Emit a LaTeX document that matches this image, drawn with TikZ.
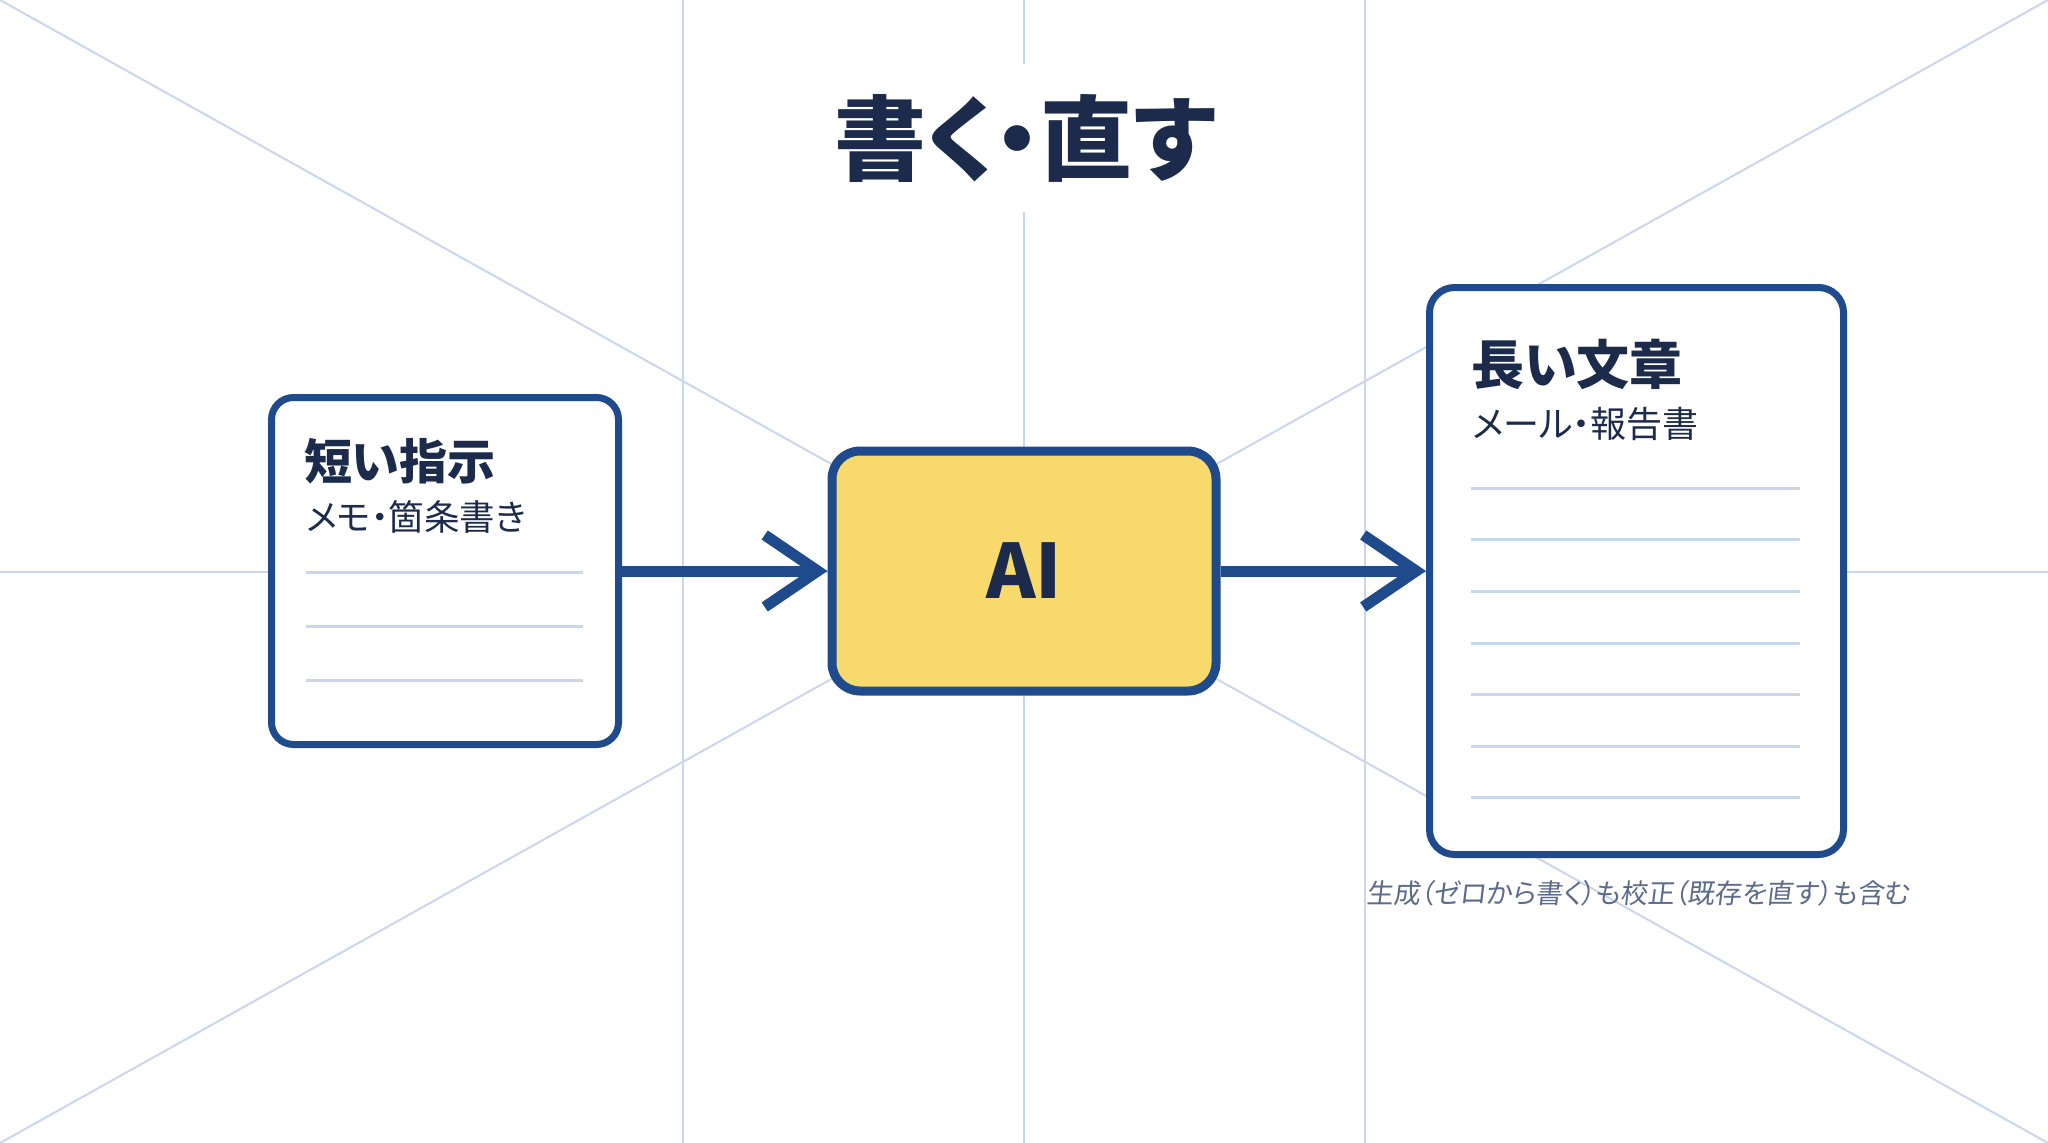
\documentclass[tikz,border=0pt]{standalone}
\usepackage{fontspec}
\setmainfont[RawFeature=+palt]{Noto Sans CJK JP}
\newfontfamily\titlefont[RawFeature=+palt]{Noto Sans CJK JP}
\newfontfamily\capfont[FakeSlant=0.12,RawFeature=+palt]{Noto Sans CJK JP}
\usetikzlibrary{arrows.meta}
\definecolor{guide}{HTML}{C9D7EE}
\definecolor{navy}{HTML}{1C2B4B}
\definecolor{border}{HTML}{1F4A8C}
\definecolor{aifill}{HTML}{F8D96C}
\definecolor{capcol}{HTML}{5B6B8C}
\tikzset{
  guideline/.style={draw=guide, line width=2pt},
  doclines/.style={draw=guide, line width=3pt},
  card/.style={draw=border, line width=7pt, fill=white, inner sep=0pt},
  aibox/.style={draw=border, line width=9pt, fill=aifill, inner sep=0pt, rounded corners=28pt},
  flow/.style={draw=border, line width=11pt, -{Straight Barb[length=53pt,width=72pt,sharp]}},
  headtxt/.style={text=navy, font=\bfseries\fontsize{48pt}{48pt}\selectfont, anchor=base west, inner sep=0pt},
  subtxt/.style={text=navy, font=\fontsize{35.5pt}{35.5pt}\selectfont, anchor=base west, inner sep=0pt},
}
\begin{document}
\begin{tikzpicture}[x=1pt, y=-1pt]
\useasboundingbox (0,0) rectangle (2048,1143);
\fill[white] (0,0) rectangle (2048,1143);
% guide lines
\coordinate (tl) at (0,0);
\coordinate (tr) at (2048,0);
\coordinate (bl) at (0,1143);
\coordinate (br) at (2048,1143);
\draw[guideline] (tl) -- (br);
\draw[guideline] (tr) -- (bl);
\draw[guideline] (682.67,0) -- (682.67,1143);
\draw[guideline] (1024,0) -- (1024,1143);
\draw[guideline] (1365.33,0) -- (1365.33,1143);
\draw[guideline] (0,571.5) -- (2048,571.5);
% title
\node[fill=white, inner sep=0pt, minimum width=440pt, minimum height=148pt, text=navy,
      font=\titlefont\bfseries\fontsize{92pt}{92pt}\selectfont] (title) at (1025,138) {書く・直す};
% boxes
\node[card, rounded corners=22pt, minimum width=347pt, minimum height=347pt] (left) at (445,571) {};
\node[aibox, minimum width=384pt, minimum height=240pt, text=navy,
      font=\bfseries\fontsize{75pt}{75pt}\selectfont] (ai) at (1024,571) {AI};
\node[card, rounded corners=25pt, minimum width=414pt, minimum height=567pt] (right) at (1636.5,571) {};
% left box content
\node[headtxt] (lhead) at (304,479) {短い指示};
\node[subtxt] (lsub) at (306,530) {メモ・箇条書き};
\foreach \yy/\nm in {572/l1,626/l2,680/l3}{
  \coordinate (\nm a) at (306,\yy);
  \coordinate (\nm b) at (583,\yy);
  \draw[doclines] (\nm a) -- (\nm b);
}
% right box content
\node[headtxt, font=\bfseries\fontsize{53pt}{53pt}\selectfont] (rhead) at (1471,384) {長い文章};
\node[subtxt, font=\fontsize{36pt}{36pt}\selectfont] (rsub) at (1472,437) {メール・報告書};
\foreach \yy/\nm in {488/r1,539/r2,591/r3,643/r4,694/r5,746/r6,797/r7}{
  \coordinate (\nm a) at (1471,\yy);
  \coordinate (\nm b) at (1800,\yy);
  \draw[doclines] (\nm a) -- (\nm b);
}
% arrows
\draw[flow] (left.east) -- (ai.west);
\draw[flow] (ai.east) -- (right.west);
% caption
\node[anchor=base, inner sep=0pt, text=capcol, font=\capfont\fontsize{27pt}{27pt}\selectfont] (cap) at (1638,903) {生成（ゼロから書く）も校正（既存を直す）も含む};
\end{tikzpicture}
\end{document}
